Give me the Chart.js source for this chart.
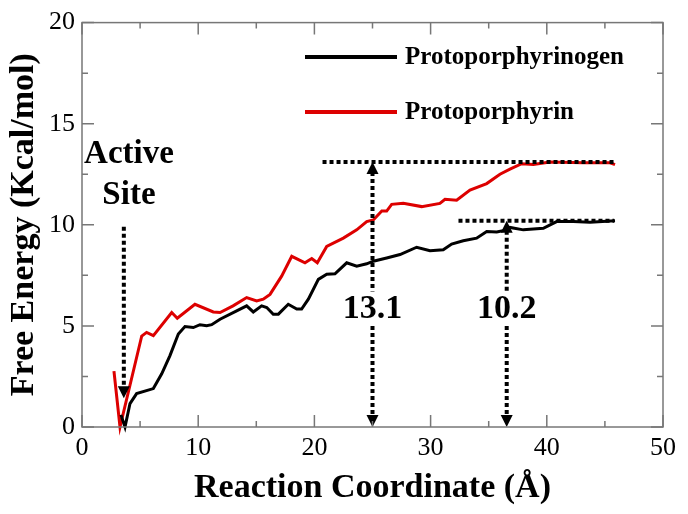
<!DOCTYPE html>
<html>
<head>
<meta charset="utf-8">
<script src="https://cdn.jsdelivr.net/npm/chart.js@4.4.1/dist/chart.umd.min.js"></script>
<style>
  html, body { margin: 0; padding: 0; background: #fff; }
  #wrap { width: 688px; height: 514px; }
</style>
</head>
<body>
<div id="wrap"><canvas id="fe-chart" width="688" height="514"></canvas></div>
<script>
// reaction coordinate (A) / free energy (kcal/mol)
var genX = [3.35, 3.7, 4.13, 4.7, 6.14, 6.86, 7.57, 8.29, 8.86, 9.58, 10.15, 10.73, 11.16, 11.88, 13.31, 14.17, 14.74, 15.46, 15.9, 16.46, 16.9, 17.75, 18.48, 18.9, 19.48, 20.34, 21.06, 21.77, 22.78, 23.64, 24.5, 25.07, 26.22, 27.37, 28.8, 29.95, 31.09, 31.81, 32.81, 33.96, 34.83, 35.69, 36.55, 36.83, 37.98, 39.7, 40.85, 42.28, 43.72, 45.87];
var genY = [0.6, 0.0, 1.16, 1.65, 1.9, 2.63, 3.53, 4.6, 4.97, 4.92, 5.06, 5.01, 5.06, 5.33, 5.74, 5.99, 5.69, 5.99, 5.91, 5.58, 5.58, 6.07, 5.83, 5.83, 6.32, 7.3, 7.55, 7.58, 8.12, 7.95, 8.07, 8.2, 8.36, 8.53, 8.89, 8.72, 8.77, 9.05, 9.21, 9.34, 9.67, 9.64, 9.75, 9.87, 9.75, 9.83, 10.16, 10.16, 10.13, 10.2];

var phyX = [2.75, 3.27, 5.14, 5.56, 6.14, 7.72, 8.2, 9.72, 11.3, 11.88, 13.0, 14.17, 15.03, 15.6, 16.18, 17.18, 18.05, 19.19, 19.77, 20.25, 21.06, 22.49, 23.64, 24.5, 25.07, 25.8, 26.22, 26.65, 27.65, 29.23, 30.8, 31.24, 32.24, 33.39, 34.83, 35.97, 36.83, 37.84, 38.84, 40.28, 43.14, 45.44, 45.87];
var phyY = [2.76, 0.0, 4.5, 4.68, 4.52, 5.66, 5.38, 6.07, 5.69, 5.66, 5.99, 6.4, 6.23, 6.32, 6.56, 7.46, 8.44, 8.12, 8.33, 8.12, 8.93, 9.34, 9.75, 10.16, 10.24, 10.68, 10.68, 11.01, 11.06, 10.9, 11.06, 11.26, 11.22, 11.72, 12.04, 12.5, 12.75, 13.02, 12.98, 13.11, 13.07, 13.07, 12.98];

var seriesNames = ['Protoporphyrinogen', 'Protoporphyrin'];
var seriesColors = ['#000000', '#dd0000'];

// barrier annotations
var barrierText = ['13.1', '10.2'];
var barrierX = [25.0, 36.55];
var barrierY = [13.1, 10.2];
var barrierLineFrom = [20.7, 32.4];
var barrierLineTo = 45.8;
var barrierGap = [5.0, 6.7]; // vertical gap where the label sits (y from..to)

var siteX = 3.6;
var siteTop = 9.9;
var siteTip = 1.42;

var serif = '"Liberation Serif", "Times New Roman", serif';

function toPts(xs, ys) {
  var out = [];
  for (var i = 0; i < xs.length; i++) out.push({x: xs[i], y: ys[i]});
  return out;
}

function arrowHead(ctx, x, y, dir) {
  // dir = 1 pointing down, -1 pointing up; (x,y) is the tip
  ctx.beginPath();
  ctx.moveTo(x, y);
  ctx.lineTo(x - 6, y - dir * 12);
  ctx.lineTo(x + 6, y - dir * 12);
  ctx.closePath();
  ctx.fill();
}

function dotted(ctx, x1, y1, x2, y2) {
  ctx.beginPath();
  ctx.moveTo(x1, y1);
  ctx.lineTo(x2, y2);
  ctx.stroke();
}

var framePlugin = {
  id: 'frame',
  afterDraw: function(chart) {
    var ctx = chart.ctx, a = chart.chartArea;
    var xs = chart.scales.x, ys = chart.scales.y;
    ctx.save();
    ctx.strokeStyle = '#777';
    ctx.lineWidth = 1.5;
    ctx.strokeRect(a.left, a.top, a.right - a.left, a.bottom - a.top);
    ctx.beginPath();
    for (var v = 0; v <= 50; v += 5) {
      var px = xs.getPixelForValue(v);
      var len = (v % 10 === 0) ? 12 : 6;
      ctx.moveTo(px, a.bottom); ctx.lineTo(px, a.bottom - len);
      ctx.moveTo(px, a.top); ctx.lineTo(px, a.top + len);
    }
    for (var w = 0; w <= 20; w += 2.5) {
      var py = ys.getPixelForValue(w);
      var l2 = (w % 5 === 0) ? 12 : 6;
      ctx.moveTo(a.left, py); ctx.lineTo(a.left + l2, py);
      ctx.moveTo(a.right, py); ctx.lineTo(a.right - l2, py);
    }
    ctx.stroke();
    ctx.restore();
  },
  afterDatasetsDraw: function(chart) {
    var ctx = chart.ctx, a = chart.chartArea;
    var xs = chart.scales.x, ys = chart.scales.y;
    ctx.save();

    // legend inside the plot
    var ds = chart.data.datasets;
    for (var i = 0; i < ds.length; i++) {
      var ly = 57 + i * 55;
      ctx.strokeStyle = ds[i].borderColor;
      ctx.lineWidth = 4;
      ctx.beginPath();
      ctx.moveTo(305, ly); ctx.lineTo(397, ly);
      ctx.stroke();
      ctx.fillStyle = '#000';
      ctx.font = 'bold 25px ' + serif;
      ctx.textBaseline = 'middle';
      ctx.textAlign = 'left';
      ctx.fillText(ds[i].label, 405, ly + 1);
    }

    ctx.strokeStyle = '#000';
    ctx.fillStyle = '#000';
    ctx.lineWidth = 4;
    ctx.setLineDash([4, 3]);

    // active site arrow
    var sx = xs.getPixelForValue(siteX);
    dotted(ctx, sx, ys.getPixelForValue(siteTop), sx, ys.getPixelForValue(siteTip) - 10);
    ctx.setLineDash([]);
    arrowHead(ctx, sx, ys.getPixelForValue(siteTip), 1);
    ctx.setLineDash([4, 3]);

    for (var k = 0; k < barrierText.length; k++) {
      var bx = xs.getPixelForValue(barrierX[k]);
      var by = ys.getPixelForValue(barrierY[k]);
      dotted(ctx, xs.getPixelForValue(barrierLineFrom[k]), by, xs.getPixelForValue(barrierLineTo), by);
      dotted(ctx, bx, by + 10, bx, ys.getPixelForValue(barrierGap[1]));
      dotted(ctx, bx, ys.getPixelForValue(barrierGap[0]), bx, ys.getPixelForValue(0) - 10);
      ctx.setLineDash([]);
      arrowHead(ctx, bx, by, -1);
      arrowHead(ctx, bx, ys.getPixelForValue(0), 1);
      ctx.setLineDash([4, 3]);
      ctx.font = 'bold 34px ' + serif;
      ctx.textAlign = 'center';
      ctx.textBaseline = 'alphabetic';
      ctx.fillText(barrierText[k], bx, ys.getPixelForValue(5.4));
    }
    ctx.setLineDash([]);

    ctx.font = 'bold 33px ' + serif;
    ctx.textAlign = 'center';
    ctx.textBaseline = 'alphabetic';
    ctx.fillText('Active', xs.getPixelForValue(4.04), ys.getPixelForValue(13.06));
    ctx.fillText('Site', xs.getPixelForValue(4.04), ys.getPixelForValue(11.05));
    ctx.restore();
  }
};

var config = {
  type: 'scatter',
  data: {
    datasets: [
      {
        label: seriesNames[0],
        data: toPts(genX, genY),
        showLine: true,
        borderColor: seriesColors[0],
        backgroundColor: seriesColors[0],
        borderWidth: 3,
        pointRadius: 0,
        tension: 0,
        clip: false
      },
      {
        label: seriesNames[1],
        data: toPts(phyX, phyY),
        showLine: true,
        borderColor: seriesColors[1],
        backgroundColor: seriesColors[1],
        borderWidth: 3,
        pointRadius: 0,
        tension: 0,
        clip: false
      }
    ]
  },
  options: {
    responsive: false,
    animation: false,
    devicePixelRatio: 1,
    layout: { padding: { top: 19, right: 25, left: 0, bottom: 0 } },
    plugins: {
      legend: { display: false },
      tooltip: { enabled: false }
    },
    scales: {
      x: {
        type: 'linear',
        min: 0, max: 50,
        grid: { display: false, drawTicks: false },
        border: { display: false },
        ticks: { stepSize: 10, color: '#000', padding: 6, font: { family: serif, size: 26 } },
        title: {
          display: true,
          text: 'Reaction Coordinate (Å)',
          color: '#000',
          font: { family: serif, size: 34, weight: 'bold' },
          padding: { top: 0, bottom: 5 }
        },
        afterFit: function(s) { s.height = 87; }
      },
      y: {
        type: 'linear',
        min: 0, max: 20,
        grid: { display: false, drawTicks: false },
        border: { display: false },
        ticks: { stepSize: 5, color: '#000', padding: 7, font: { family: serif, size: 26 } },
        title: {
          display: true,
          text: 'Free Energy (Kcal/mol)',
          color: '#000',
          font: { family: serif, size: 34, weight: 'bold' },
          padding: { top: 4, bottom: 0 }
        },
        afterFit: function(s) { s.width = 82; }
      }
    }
  },
  plugins: [framePlugin]
};

var ctx = document.getElementById('fe-chart').getContext('2d');
window.feChart = new Chart(ctx, config);
</script>
</body>
</html>
